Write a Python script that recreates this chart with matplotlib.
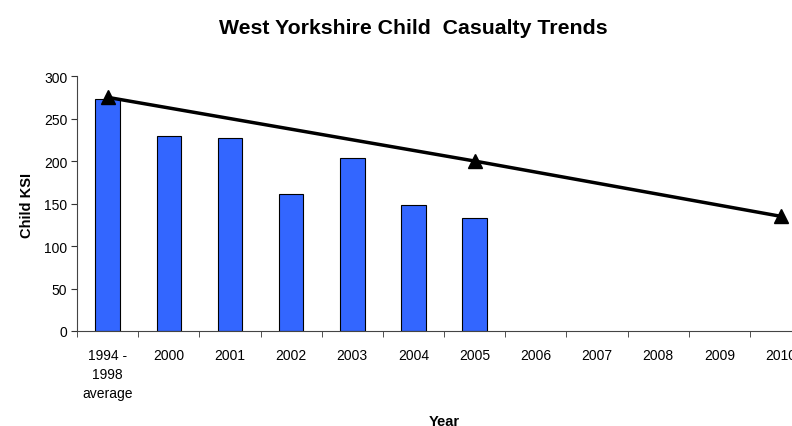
import numpy as np
import matplotlib.pyplot as plt

plt.rcParams['font.family'] = ['Liberation Sans', 'DejaVu Sans']

years = ['1994 -\n1998\naverage', '2000', '2001', '2002', '2003', '2004',
         '2005', '2006', '2007', '2008', '2009', '2010']
ksi = [273, 230, 227, 161, 203, 148, 133]
target_idx = [0, 6, 11]
target_val = [275, 200, 135]

fig = plt.figure(figsize=(7.92, 4.27), dpi=100)
ax = fig.add_axes([0.0972, 0.2225, 0.927, 0.597])

x = np.arange(len(years))
ax.bar(x[:len(ksi)], ksi, width=0.4, color='#3366FF', edgecolor='black',
       linewidth=0.8, zorder=2)
ax.plot(target_idx, target_val, color='black', linewidth=2.5, marker='^',
        markersize=10, zorder=3, clip_on=False)

ax.set_xlim(-0.5, len(years) - 0.5)
ax.set_ylim(0, 300)
ax.set_yticks(range(0, 301, 50))
ax.set_xticks(x)
ax.set_xticklabels(years, fontsize=10, va='top', linespacing=1.45)
ax.set_xticks(np.arange(-0.5, len(years), 1), minor=True)
ax.tick_params(axis='x', which='major', length=0, pad=12)
ax.tick_params(axis='x', which='minor', length=4, color='#333333')
ax.tick_params(axis='y', labelsize=10, length=4, color='#333333', pad=3)

for s in ['top', 'right']:
    ax.spines[s].set_visible(False)
for s in ['left', 'bottom']:
    ax.spines[s].set_color('#444444')

fig.text(27 / 792, 1 - 205 / 427, 'Child KSI', rotation=90, ha='center',
         va='center', fontsize=10.5, fontweight='bold')
fig.text(444 / 792, 1 - 415 / 427, 'Year', ha='center', va='top',
         fontsize=10.5, fontweight='bold')
fig.text(413 / 792, 1 - 29 / 427, 'West Yorkshire Child  Casualty Trends',
         ha='center', va='center', fontsize=15.3, fontweight='bold')

fig.savefig('out.png', dpi=100)
